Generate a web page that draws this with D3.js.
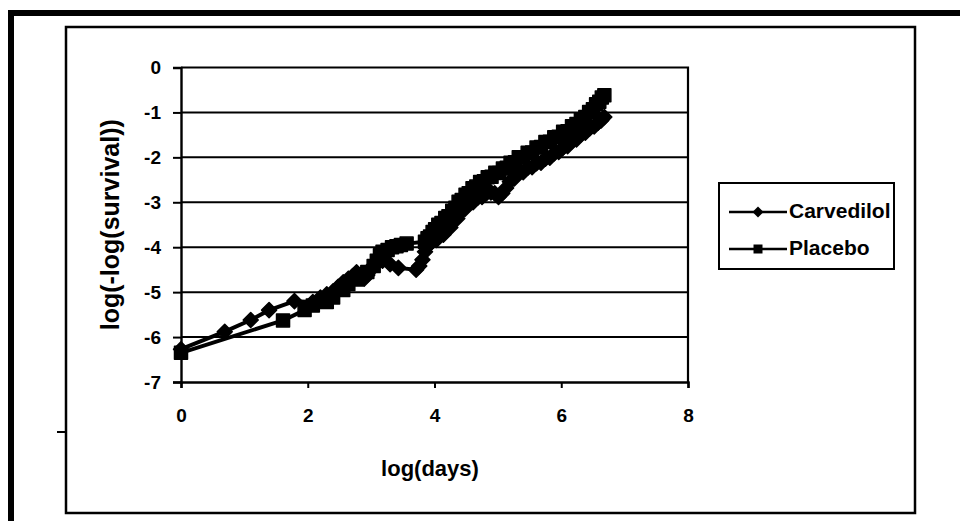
<!DOCTYPE html>
<html>
<head>
<meta charset="utf-8">
<script src="https://cdn.jsdelivr.net/npm/d3@7"></script>
<style>
  html, body { margin: 0; padding: 0; background: #fff; }
  svg { display: block; }
  text { font-family: "Liberation Sans", Arial, sans-serif; font-weight: bold; fill: #000; }
</style>
</head>
<body>
<svg id="chart" width="960" height="521"></svg>
<script>
// Axis ticks
const xTicks = [0, 2, 4, 6, 8];
const yTicks = [0, -1, -2, -3, -4, -5, -6, -7];

// Carvedilol: log(days) vs log(-log(survival))
const carvedilolX = [0, 0.69, 1.10, 1.39, 1.79, 2.08, 2.20, 2.30, 2.40, 2.48,
  2.56, 2.64, 2.71, 2.77, 2.83, 2.89, 2.94, 3.00, 3.04, 3.09,
  3.18, 3.30, 3.43, 3.71, 3.76, 3.81, 3.85, 3.89, 3.93, 3.97,
  4.03, 4.09, 4.14, 4.19, 4.25, 4.30, 4.36, 4.42, 4.48, 4.54,
  4.61, 4.68, 4.75, 4.82, 4.89, 4.95, 5.01, 5.07, 5.13, 5.19,
  5.26, 5.33, 5.40, 5.47, 5.54, 5.61, 5.68, 5.75, 5.82, 5.89,
  5.96, 6.03, 6.10, 6.17, 6.24, 6.31, 6.38, 6.45, 6.52, 6.58,
  6.63, 6.68];
const carvedilolY = [-6.27, -5.88, -5.62, -5.40, -5.20, -5.22, -5.12, -5.05, -4.98, -4.88,
  -4.78, -4.70, -4.64, -4.56, -4.62, -4.70, -4.62, -4.50, -4.40, -4.34,
  -4.30, -4.38, -4.46, -4.50, -4.42, -4.28, -4.10, -3.98, -3.92, -3.86,
  -3.84, -3.74, -3.72, -3.62, -3.56, -3.42, -3.36, -3.20, -3.15, -3.02,
  -3.00, -2.90, -2.88, -2.80, -2.78, -2.80, -2.88, -2.80, -2.68, -2.54,
  -2.47, -2.35, -2.33, -2.23, -2.22, -2.13, -2.12, -2.03, -2.01, -1.91,
  -1.88, -1.78, -1.75, -1.64, -1.60, -1.49, -1.45, -1.35, -1.31, -1.23,
  -1.18, -1.10];

// Placebo: log(days) vs log(-log(survival))
const placeboX = [0, 1.61, 1.95, 2.08, 2.30, 2.40, 2.56, 2.64, 2.77, 2.83,
  2.94, 3.04, 3.09, 3.14, 3.18, 3.26, 3.33, 3.40, 3.47, 3.56,
  3.85, 3.89, 3.93, 3.97, 4.01, 4.06, 4.11, 4.17, 4.22, 4.28,
  4.33, 4.38, 4.43, 4.49, 4.54, 4.60, 4.66, 4.72, 4.78, 4.84,
  4.90, 4.96, 5.02, 5.08, 5.14, 5.20, 5.27, 5.33, 5.40, 5.47,
  5.54, 5.61, 5.68, 5.75, 5.82, 5.89, 5.96, 6.03, 6.10, 6.17,
  6.24, 6.31, 6.38, 6.44, 6.50, 6.55, 6.60, 6.64, 6.68];
const placeboY = [-6.35, -5.63, -5.40, -5.30, -5.22, -5.12, -4.95, -4.82, -4.72, -4.62,
  -4.55, -4.42, -4.30, -4.18, -4.10, -4.06, -4.00, -3.98, -3.95, -3.92,
  -3.88, -3.80, -3.76, -3.66, -3.60, -3.50, -3.46, -3.35, -3.31, -3.19,
  -3.12, -2.99, -2.95, -2.83, -2.80, -2.69, -2.65, -2.55, -2.53, -2.44,
  -2.43, -2.34, -2.35, -2.25, -2.23, -2.12, -2.11, -2.00, -2.00, -1.90,
  -1.89, -1.78, -1.77, -1.66, -1.65, -1.55, -1.54, -1.43, -1.42, -1.31,
  -1.26, -1.15, -1.10, -0.99, -0.93, -0.82, -0.76, -0.67, -0.62];

const seriesNames = ["Carvedilol", "Placebo"];

const svg = d3.select("#chart");

// Page frame (heavy top and left rules)
svg.append("line").attr("x1", 8).attr("x2", 960).attr("y1", 13).attr("y2", 13)
  .attr("stroke", "#000").attr("stroke-width", 6);
svg.append("line").attr("x1", 11).attr("x2", 11).attr("y1", 10).attr("y2", 521)
  .attr("stroke", "#000").attr("stroke-width", 6);

// Chart area border
svg.append("rect").attr("x", 66).attr("y", 27).attr("width", 849).attr("height", 486)
  .attr("fill", "none").attr("stroke", "#000").attr("stroke-width", 2.5);
svg.append("line").attr("x1", 57).attr("x2", 66).attr("y1", 432).attr("y2", 432)
  .attr("stroke", "#000").attr("stroke-width", 2);

const x = d3.scaleLinear().domain([0, 8]).range([181, 688]);
const y = d3.scaleLinear().domain([-7, 0]).range([382, 67.5]);

// Gridlines
svg.append("g").selectAll("line")
  .data(yTicks.filter(v => v > -7 && v < 0))
  .join("line")
  .attr("x1", x(0)).attr("x2", x(8))
  .attr("y1", d => y(d)).attr("y2", d => y(d))
  .attr("stroke", "#000").attr("stroke-width", 2);

// Plot area border (top and right)
svg.append("path")
  .attr("d", `M${x(0)},${y(0)}H${x(8)}V${y(-7)}`)
  .attr("fill", "none").attr("stroke", "#000").attr("stroke-width", 2.2);

// Axes
const yAxis = svg.append("g")
  .attr("transform", `translate(${x(0)},0)`)
  .call(d3.axisLeft(y).tickValues(yTicks).tickSize(8).tickPadding(12).tickFormat(d3.format("d")));
const xAxis = svg.append("g")
  .attr("transform", `translate(0,${y(-7)})`)
  .call(d3.axisBottom(x).tickValues(xTicks).tickSize(6).tickPadding(21).tickFormat(d3.format("d")));
[yAxis, xAxis].forEach(g => {
  g.select(".domain").attr("stroke", "#000").attr("stroke-width", 2.4);
  g.selectAll(".tick line").attr("stroke", "#000").attr("stroke-width", 2);
  g.selectAll(".tick text")
    .attr("font-family", '"Liberation Sans", Arial, sans-serif')
    .attr("font-weight", "bold").attr("font-size", 19).attr("fill", "#000");
});
yAxis.selectAll(".tick text").text(d => String(d));

// Axis titles
svg.append("text")
  .attr("transform", `translate(112,${(y(0) + y(-7)) / 2}) rotate(-90)`)
  .attr("text-anchor", "middle").attr("dominant-baseline", "middle")
  .attr("font-size", 25)
  .text("log(-log(survival))");
svg.append("text")
  .attr("x", 430).attr("y", 470)
  .attr("text-anchor", "middle").attr("dominant-baseline", "middle")
  .attr("font-size", 22)
  .text("log(days)");

// Marker shapes
const diamond = r => `M0,${-r}L${r},0L0,${r}L${-r},0Z`;
const square = s => `M${-s / 2},${-s / 2}h${s}v${s}h${-s}Z`;

const line = d3.line().x(d => x(d[0])).y(d => y(d[1]));

function drawSeries(xs, ys, shape) {
  const pts = xs.map((v, i) => [v, ys[i]]);
  const g = svg.append("g");
  g.append("path").datum(pts).attr("d", line)
    .attr("fill", "none").attr("stroke", "#000").attr("stroke-width", 4)
    .attr("stroke-linejoin", "round");
  g.selectAll("path.m").data(pts).join("path").attr("class", "m")
    .attr("transform", d => `translate(${x(d[0])},${y(d[1])})`)
    .attr("d", shape).attr("fill", "#000").attr("stroke", "#000").attr("stroke-width", 1.5)
    .attr("stroke-linejoin", "round");
}
drawSeries(carvedilolX, carvedilolY, diamond(7.5));
drawSeries(placeboX, placeboY, square(13));

// Legend
const legend = svg.append("g");
legend.append("rect").attr("x", 719).attr("y", 183).attr("width", 175).attr("height", 86)
  .attr("fill", "#fff").attr("stroke", "#000").attr("stroke-width", 2);
const legendShapes = [diamond(5.5), square(9)];
seriesNames.forEach((name, i) => {
  const ly = 212 + i * 37;
  legend.append("line").attr("x1", 729).attr("x2", 787).attr("y1", ly).attr("y2", ly)
    .attr("stroke", "#000").attr("stroke-width", 2.5);
  legend.append("path").attr("transform", `translate(758,${ly})`)
    .attr("d", legendShapes[i]).attr("fill", "#000");
  legend.append("text").attr("x", 789).attr("y", ly)
    .attr("dominant-baseline", "middle").attr("font-size", 21)
    .text(name);
});
</script>
</body>
</html>
